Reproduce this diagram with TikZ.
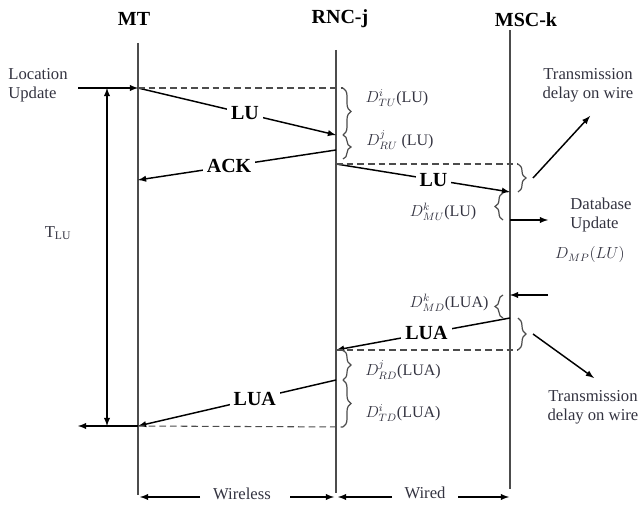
\documentclass[tikz,border=0pt]{standalone}
\usepackage{fontspec}
\setmainfont{Liberation Serif}
\usepackage{tikz}
\usetikzlibrary{calc}
\usetikzlibrary{arrows,decorations.pathreplacing}
\usetikzlibrary{positioning}
\usepackage{amsmath}
\definecolor{txtgray}{rgb}{0.2,0.2,0.25}
\definecolor{linegray}{rgb}{0.3,0.3,0.3}

\begin{document}
\begin{tikzpicture}[x=0.75pt,y=-0.75pt,
    life/.style={linegray, line width=0.8pt},
    msg/.style={-latex, line width=1.1pt},
    wire/.style={dashed, dash pattern=on 5pt off 3pt, linegray, line width=0.8pt},
    head/.style={font=\fontsize{15}{15}\selectfont\bfseries, inner sep=0pt},
    lbl/.style={font=\fontsize{15}{15}\selectfont\bfseries, fill=white, inner sep=3pt},
    dly/.style={font=\fontsize{12}{12}\selectfont, txtgray, inner sep=0pt},
    note/.style={font=\fontsize{12.5}{14}\selectfont, txtgray, align=center, inner sep=0pt},
    brc/.style={decorate, decoration={brace, amplitude=6pt}, linegray, line width=0.9pt}]
    \useasboundingbox (0,0) rectangle (640,506);

    % lifelines
    \node[head] (mt)  at (134,19) {MT};
    \node[head] (rnc) at (340,19) {RNC-j};
    \node[head] (msc) at (526,20) {MSC-k};
    \coordinate (mt top)  at (138,43);  \coordinate (mt bot)  at (138,495);
    \coordinate (rnc top) at (336,50);  \coordinate (rnc bot) at (336,493);
    \coordinate (msc top) at (510,30);  \coordinate (msc bot) at (510,489);
    \draw[life] (mt top) -- (mt bot);
    \draw[life] (rnc top) -- (rnc bot);
    \draw[life] (msc top) -- (msc bot);

    % message end points
    \coordinate (lu1 s)  at (138,88);  \coordinate (lu1 e)  at (336,135);
    \coordinate (ack s)  at (336,150); \coordinate (ack e)  at (138,180);
    \coordinate (lu2 s)  at (336,164); \coordinate (lu2 e)  at (510,192);
    \coordinate (lua1 s) at (510,318); \coordinate (lua1 e) at (336,350);
    \coordinate (lua2 s) at (336,380); \coordinate (lua2 e) at (138,426);

    \draw[msg] (lu1 s)  -- node[lbl, pos=0.54] (lu1)  {LU}  (lu1 e);
    \draw[msg] (ack s)  -- node[lbl, pos=0.54] (ack)  {ACK} (ack e);
    \draw[msg] (lu2 s)  -- node[lbl, pos=0.56] (lu2)  {LU}  (lu2 e);
    \draw[msg] (lua1 s) -- node[lbl, pos=0.48] (lua1) {LUA} (lua1 e);
    \draw[msg] (lua2 s) -- node[lbl, pos=0.41] (lua2) {LUA} (lua2 e);

    % location update and T_LU
    \node[note, align=left] (locu) at (38,85) {Location\\Update};
    \coordinate (locu in) at (78,88);
    \coordinate (locu out) at (78,426);
    \draw[msg] (locu in) -- (lu1 s);
    \draw[msg] (lua2 e) -- (locu out);
    \coordinate (tlu top) at (107,88); \coordinate (tlu bot) at (107,426);
    \draw[latex-latex, line width=1.1pt] (tlu top) -- (tlu bot);
    \node[note] (tlu) at (58,233) {T\textsubscript{LU}};

    % dashed guides and delay braces at RNC-j
    \draw[wire] (lu1 s) -- (343,88);
    \draw[brc] (343,88) -- (343,135);
    \draw[brc] (343,135) -- (343,159);
    \node[dly] (dtu) at (397,98)  {$D^{i}_{TU}$(LU)};
    \node[dly] (dru) at (400,140) {$D^{j}_{RU}$ (LU)};
    \draw[wire] (lua2 e) -- (343,427);
    \draw[brc] (343,350) -- (343,380);
    \draw[brc] (343,380) -- (343,427);
    \node[dly] (drd) at (403,370) {$D^{j}_{RD}$(LUA)};
    \node[dly] (dtd) at (403,413) {$D^{i}_{TD}$(LUA)};

    % wire delays at MSC-k
    \draw[wire] (lu2 s) -- (518,164);
    \draw[brc] (518,164) -- (518,192);
    \draw[wire] (lua1 e) -- (518,350);
    \draw[brc] (518,318) -- (518,350);
    \node[note] (tdw1) at (588,85)  {Transmission\\delay on wire};
    \node[note] (tdw2) at (593,407) {Transmission\\delay on wire};
    \coordinate (tw1 s) at (533,178); \coordinate (tw1 e) at (590,116);
    \coordinate (tw2 s) at (533,334); \coordinate (tw2 e) at (594,378);
    \draw[msg] (tw1 s) -- (tw1 e);
    \draw[msg] (tw2 s) -- (tw2 e);

    % processing at MSC-k
    \draw[brc] (503,220) -- (503,193);
    \draw[brc] (503,318) -- (503,295);
    \node[dly] (dmu) at (443,212) {$D^{k}_{MU}$(LU)};
    \node[dly] (dmd) at (449,303) {$D^{k}_{MD}$(LUA)};
    \coordinate (db s) at (510,220); \coordinate (db e) at (548,220);
    \draw[msg] (db s) -- (db e);
    \node[note, align=left] (dbu) at (601,215) {Database\\Update};
    \node[dly] (dmp) at (590,255) {$D_{MP}(LU)$};
    \coordinate (md s) at (548,295); \coordinate (md e) at (510,295);
    \draw[msg] (md s) -- (md e);

    % wireless / wired spans
    \node[note] (wl) at (242,494) {Wireless};
    \node[note] (wd) at (425,493) {Wired};
    \draw[msg] (200,497) -- (140,497);
    \draw[msg] (290,497) -- (334,497);
    \draw[msg] (392,497) -- (338,497);
    \draw[msg] (458,497) -- (509,497);
\end{tikzpicture}
\end{document}
